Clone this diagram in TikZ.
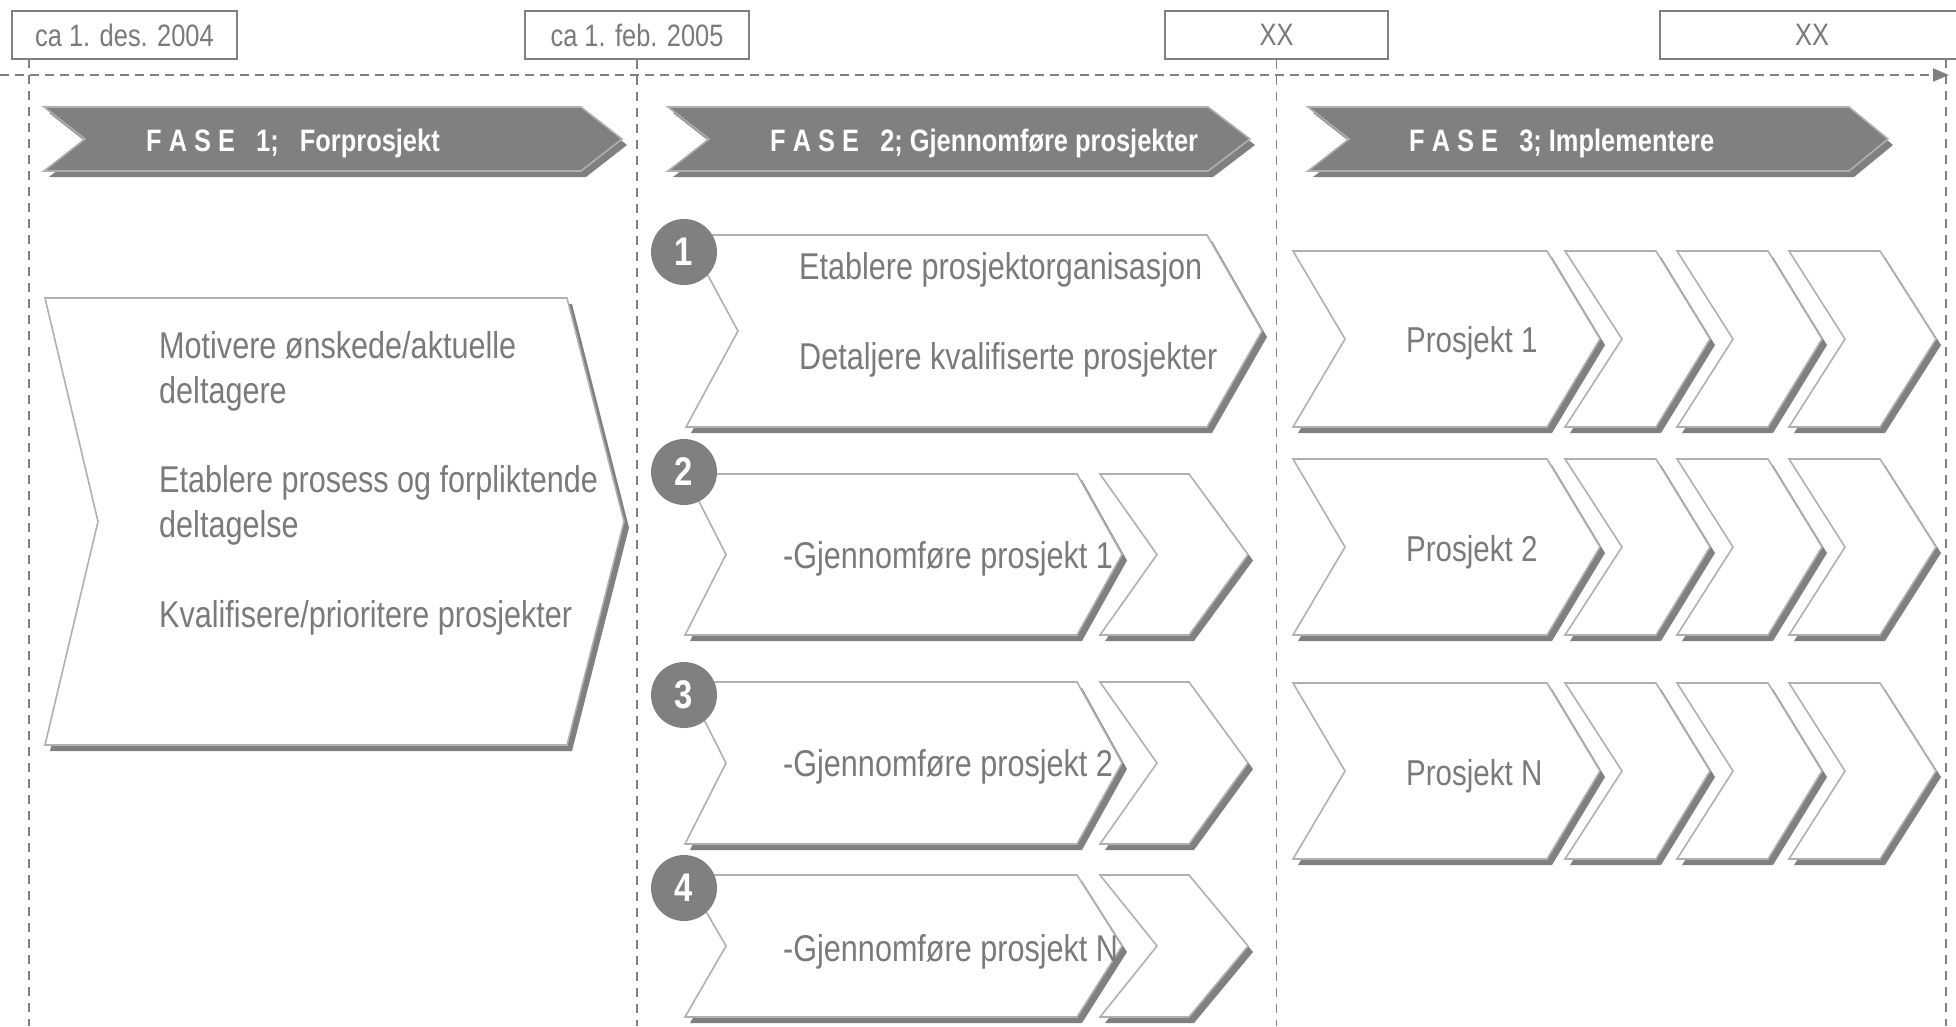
\documentclass[tikz,border=0pt]{standalone}
\usepackage{fontspec}
\setmainfont{Liberation Sans}[FakeStretch=0.82]
\usetikzlibrary{arrows.meta,calc}
\definecolor{dg}{RGB}{128,128,128}
\definecolor{lg}{RGB}{176,176,176}
\definecolor{tg}{RGB}{122,122,122}
% #1 style, #2 left, #3 notch, #4 top-right, #5 tip, #6 top, #7 bottom
\newcommand\chevpath[7]{%
  \path[#1] (#2,#6) -- (#4,#6) -- (#5,{(#6+#7)/2}) -- (#4,#7) -- (#2,#7) -- (#3,{(#6+#7)/2}) -- cycle;}
\newcommand\chevron[7]{%
  \chevpath{fill=dg,shift={(5,6)}}{#2}{#3}{#4}{#5}{#6}{#7}%
  \chevpath{#1}{#2}{#3}{#4}{#5}{#6}{#7}}
\begin{document}
\begin{tikzpicture}[x=1pt,y=-1pt,
  whitechev/.style={fill=white,draw=lg,line width=1.6pt,line join=miter},
  fasechev/.style={fill=dg,draw=lg,line width=1.6pt},
  datebox/.style={draw=dg,line width=2pt,minimum height=48pt,inner sep=0pt,text=tg,font=\fontsize{31}{31}\selectfont},
  vdash/.style={draw=dg,line width=1.6pt,dash pattern=on 9pt off 7pt},
  hdash/.style={draw=dg,line width=2pt,dash pattern=on 9pt off 6pt},
  fasetxt/.style={anchor=base west,inner sep=0pt,text=white,font=\bfseries\fontsize{31}{31}\selectfont},
  txt/.style={anchor=base west,inner sep=0pt,text=tg,font=\fontsize{37.3}{45}\selectfont},
  ptxt/.style={anchor=base west,inner sep=0pt,text=tg,font=\fontsize{36}{43}\selectfont},
  numcirc/.style={circle,fill=dg,minimum size=66pt,inner sep=0pt,text=white,font=\bfseries\fontsize{40}{40}\selectfont}]
\useasboundingbox (0,0) rectangle (1956,1026);
\fill[white] (0,0) rectangle (1956,1026);

% date boxes
\node[datebox,minimum width=225pt] (d1) at (124.5,35) {ca 1. des. 2004};
\node[datebox,minimum width=224pt] (d2) at (637,35) {ca 1. feb. 2005};
\node[datebox,minimum width=223pt] (d3) at (1276.5,35) {XX};
\node[datebox,minimum width=304pt] (d4) at (1812,35) {XX};

% timeline
\coordinate (hs) at (0,75);
\coordinate (he) at (1949,75);
\draw[hdash,-{Triangle[length=16pt,width=13pt]}] (hs) -- (he);
\coordinate (v1t) at (29,59);
\coordinate (v1b) at (29,1026);
\coordinate (v4t) at (1946,59);
\coordinate (v4b) at (1946,1026);
\draw[vdash] (v1t) -- (v1b);
\draw[vdash] (d2.south) -- (d2.south |- v1b);
\draw[vdash] (d3.south) -- (d3.south |- v1b);
\draw[vdash] (v4t) -- (v4b);

% FASE arrows
\chevron{fasechev}{44}{85}{581}{622}{107}{171}
\chevron{fasechev}{668}{709}{1208}{1250}{107}{171}
\chevron{fasechev}{1308}{1349}{1849}{1888}{107}{171}
\node[fasetxt] (f1) at (146,151) {F A S E\hspace{14pt} 1;\hspace{14pt} Forprosjekt};
\node[fasetxt] (f2) at (770,151) {F A S E\hspace{14pt} 2; Gjennomføre prosjekter};
\node[fasetxt] (f3) at (1409,151) {F A S E\hspace{14pt} 3; Implementere};

% phase 1
\chevron{whitechev}{45}{98}{567}{624}{298}{745}
\node[txt] (p1a) at (159,358) {Motivere ønskede/aktuelle};
\node[txt] (p1b) at (159,403) {deltagere};
\node[txt] (p1c) at (159,492) {Etablere prosess og forpliktende};
\node[txt] (p1d) at (159,537) {deltagelse};
\node[txt] (p1e) at (159,627) {Kvalifisere/prioritere prosjekter};

% phase 2
\chevron{whitechev}{686}{738}{1207}{1262}{235}{427}
\node[txt] (q1a) at (799,279) {Etablere prosjektorganisasjon};
\node[txt] (q1b) at (799,369) {Detaljere kvalifiserte prosjekter};
\node[numcirc] (c1) at (684,252) {1};

\chevron{whitechev}{685}{726}{1077}{1122}{474}{635}
\node[txt] (q2) at (783,568) {-Gjennomføre prosjekt 1};
\chevron{whitechev}{1100}{1157}{1189}{1248}{474}{635}
\node[numcirc] (c2) at (684,472) {2};

\chevron{whitechev}{685}{726}{1077}{1122}{682}{844}
\node[txt] (q3) at (783,776) {-Gjennomføre prosjekt 2};
\chevron{whitechev}{1100}{1157}{1189}{1248}{682}{844}
\node[numcirc] (c3) at (684,695) {3};

\chevron{whitechev}{685}{726}{1077}{1122}{875}{1017}
\node[txt] (q4) at (783,961) {-Gjennomføre prosjekt N};
\chevron{whitechev}{1100}{1157}{1189}{1248}{875}{1017}
\node[numcirc] (c4) at (684,888) {4};

% phase 3
\foreach \t/\b in {251/427,459/635,683/859}{
  \chevron{whitechev}{1293}{1345}{1547}{1600}{\t}{\b}
  \chevron{whitechev}{1565}{1622}{1656}{1710}{\t}{\b}
  \chevron{whitechev}{1677}{1733}{1768}{1822}{\t}{\b}
  \chevron{whitechev}{1789}{1845}{1880}{1936}{\t}{\b}
}
\node[ptxt] (r1) at (1406,352) {Prosjekt 1};
\node[ptxt] (r2) at (1406,561) {Prosjekt 2};
\node[ptxt] (r3) at (1406,785) {Prosjekt N};
\end{tikzpicture}
\end{document}
